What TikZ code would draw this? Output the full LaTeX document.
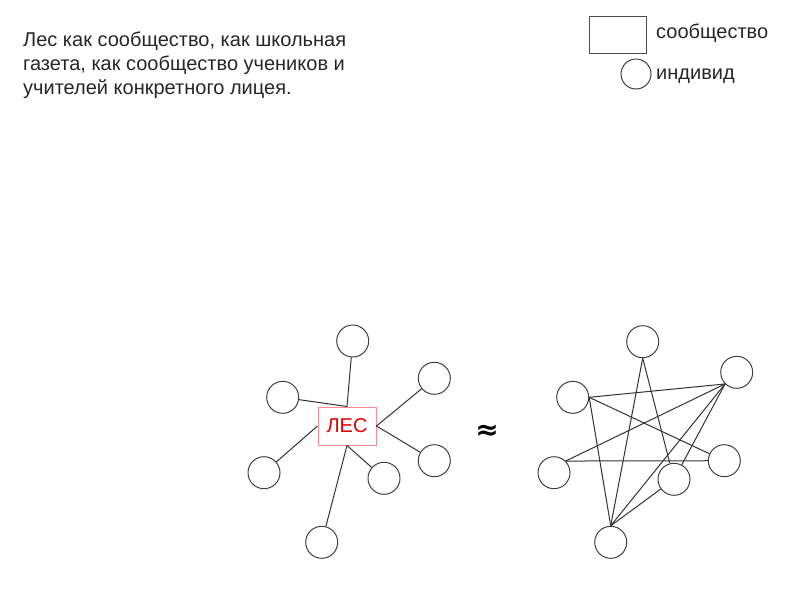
\documentclass[tikz,border=0pt]{standalone}
\usepackage{fontspec}
\setmainfont{Liberation Sans}
\newfontfamily\symfnt{DejaVu Sans}
\begin{document}
\begin{tikzpicture}[x=1pt,y=-1pt,
  ind/.style={circle,draw=black!75,line width=1pt,minimum size=32pt,inner sep=0pt},
  edge/.style={draw=black!80,line width=1pt},
  legtext/.style={anchor=west,inner sep=0pt,font=\fontsize{20}{24}\selectfont,text=black!85},
  title/.style={anchor=north west,align=left,font=\fontsize{20}{24}\selectfont,text=black!85,inner sep=0pt}]
\useasboundingbox (0,0) rectangle (800,600);
\node[title] (t) at (23,31.5) {Лес как сообщество, как школьная\\газета, как сообщество учеников и\\учителей конкретного лицея.};
% legend
\node[draw=black!70,line width=1pt,minimum width=57pt,minimum height=37pt,inner sep=0pt] (lr) at (617.5,34.5) {};
\node[legtext] (lrt) at (656,33) {сообщество};
\node[ind,minimum size=30pt] (lc) at (636,74) {};
\node[legtext] (lct) at (656,76) {индивид};
% left graph
\node[draw=red!45,line width=1pt,minimum width=58pt,minimum height=38pt,inner sep=0pt,text=red!90!black,font=\fontsize{20}{24}\selectfont] (les) at (347,426) {ЛЕС};
\node[ind] (a1) at (352.7,341) {};
\node[ind] (a2) at (282.7,397.3) {};
\node[ind] (a3) at (434.3,378.3) {};
\node[ind] (a4) at (264,472.7) {};
\node[ind] (a5) at (434.3,460.7) {};
\node[ind] (a6) at (384,478.3) {};
\node[ind] (a7) at (321.7,542.3) {};
\draw[edge] (a1) -- (les.north);
\draw[edge] (a2) -- (les.north);
\draw[edge] (a3) -- (les.east);
\draw[edge] (a5) -- (les.east);
\draw[edge] (a4) -- (les.west);
\draw[edge] (a6) -- (les.south);
\draw[edge] (a7) -- (les.south);
% approx
\node[font=\symfnt\bfseries\fontsize{28}{28}\selectfont,inner sep=0pt] (ap) at (487,432) {≈};
% right graph
\node[ind] (b1) at (642.7,341.7) {};
\node[ind] (b2) at (572.7,397.3) {};
\node[ind] (b3) at (736.7,372.3) {};
\node[ind] (b4) at (554,472.7) {};
\node[ind] (b5) at (724.3,460.7) {};
\node[ind] (b6) at (674,479.3) {};
\node[ind] (b7) at (610.7,542.3) {};
\draw[edge] (b2.east) -- (b3.south west);
\draw[edge] (b2.east) -- (b5);
\draw[edge] (b2.east) -- (b7.north);
\draw[edge] (b4.north east) -- (b3.south west);
\draw[edge] (b4.north east) -- (b5);
\draw[edge] (b1.south) -- (b7.north);
\draw[edge] (b1.south) -- (b6);
\draw[edge] (b3.south west) -- (b7.north);
\draw[edge] (b3.south west) -- (b6);
\draw[edge] (b6) -- (b7.north);
\end{tikzpicture}
\end{document}
